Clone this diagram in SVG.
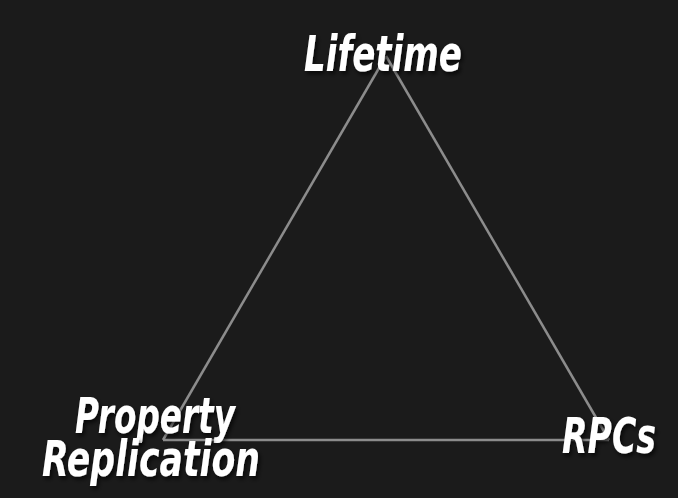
<svg xmlns="http://www.w3.org/2000/svg" width="678" height="498" viewBox="0 0 678 498">
  <defs>
    <filter id="shadow" x="-10%" y="-20%" width="130%" height="150%">
      <feDropShadow dx="2" dy="3" stdDeviation="2" flood-color="#000000" flood-opacity="0.7"/>
    </filter>
  </defs>
  <style>
    .edge { fill: none; stroke: #8c8c8c; stroke-width: 2.5; stroke-linejoin: miter; }
    .label { font-family: "Liberation Sans Narrow", "DejaVu Sans Condensed", "Liberation Sans", sans-serif; font-weight: bold; font-style: italic; font-size: 50px; fill: #ffffff; text-anchor: middle; filter: url(#shadow); }
  </style>
  <rect width="678" height="498" fill="#1b1b1b"/>
  <g id="connectors">
    <line class="edge" x1="386" y1="56" x2="163" y2="440"/>
    <line class="edge" x1="386" y1="56" x2="609" y2="440"/>
    <line class="edge" x1="163" y1="440" x2="609" y2="440"/>
  </g>
  <g id="node-lifetime">
    <text class="label" x="383" y="71" textLength="158" lengthAdjust="spacingAndGlyphs">Lifetime</text>
  </g>
  <g id="node-property-replication">
    <text class="label" x="155" y="433" textLength="160" lengthAdjust="spacingAndGlyphs">Property</text>
    <text class="label" x="151" y="476" textLength="218" lengthAdjust="spacingAndGlyphs">Replication</text>
  </g>
  <g id="node-rpcs">
    <text class="label" x="609" y="453" textLength="94" lengthAdjust="spacingAndGlyphs">RPCs</text>
  </g>
</svg>
